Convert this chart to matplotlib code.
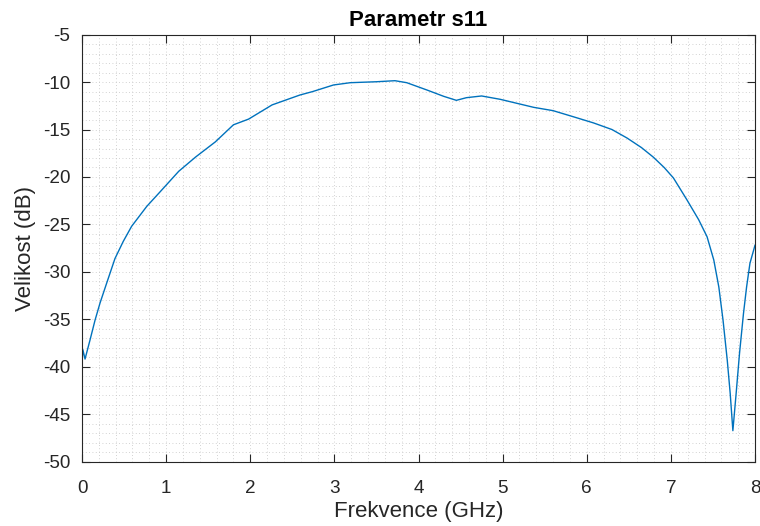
import matplotlib
matplotlib.use("Agg")
import matplotlib.pyplot as plt
from matplotlib.ticker import MultipleLocator

plt.rcParams['font.family'] = ['Liberation Sans', 'DejaVu Sans']

# Measured reflection coefficient S11
freq_ghz = [0.0, 0.01, 0.036, 0.095, 0.155, 0.214, 0.293, 0.392, 0.49, 0.59,
            0.77, 0.93, 1.15, 1.35, 1.585, 1.80, 1.98, 2.26, 2.59, 2.74,
            2.99, 3.19, 3.50, 3.72, 3.86, 4.10, 4.30, 4.45, 4.57, 4.75,
            4.97, 5.37, 5.60, 5.84, 6.08, 6.30, 6.48, 6.65, 6.79, 6.92,
            7.03, 7.19, 7.33, 7.43, 7.51, 7.57, 7.62, 7.67, 7.705, 7.737,
            7.776, 7.816, 7.863, 7.90, 7.94, 8.0]
s11_db = [-39.6, -38.2, -39.2, -37.2, -35.1, -33.3, -31.2, -28.6, -26.8, -25.2,
          -23.1, -21.55, -19.4, -17.9, -16.3, -14.5, -13.9, -12.4, -11.36, -11.0,
          -10.30, -10.06, -9.96, -9.85, -10.06, -10.83, -11.5, -11.92, -11.64, -11.46,
          -11.81, -12.66, -13.01, -13.65, -14.3, -15.0, -15.9, -16.9, -17.9, -19.0,
          -20.1, -22.4, -24.5, -26.3, -28.75, -31.6, -35.1, -39.3, -42.8, -46.75,
          -42.8, -38.6, -34.4, -31.6, -29.1, -27.2]

x_ticks = [0, 1, 2, 3, 4, 5, 6, 7, 8]
y_ticks = [-50, -45, -40, -35, -30, -25, -20, -15, -10, -5]

fig = plt.figure(figsize=(7.6, 5.26), dpi=100)
ax = fig.add_axes([82 / 760, 1 - 461.5 / 526, (755 - 82) / 760, (461.5 - 34.7) / 526])

ax.plot(freq_ghz, s11_db, color='#0072BD', lw=1.0, solid_joinstyle='round')

ax.set_xlim(0, 8)
ax.set_ylim(-50, -5)
ax.set_xticks(x_ticks)
ax.set_yticks(y_ticks)
ax.set_yticklabels([str(t) for t in y_ticks])
ax.xaxis.set_minor_locator(MultipleLocator(0.2))
ax.yaxis.set_minor_locator(MultipleLocator(1))

ax.grid(which='both', linestyle=(0, (1, 3)), color='#c4c4c4', linewidth=0.6)
ax.set_axisbelow(True)

for sp in ax.spines.values():
    sp.set_color('#262626')
    sp.set_linewidth(0.8)
ax.tick_params(which='major', direction='in', length=6, width=0.8, colors='#262626',
               top=True, right=True, labelsize=13.6)
ax.tick_params(axis='x', which='major', pad=13)
ax.tick_params(axis='y', which='major', pad=8.5)
ax.tick_params(which='minor', length=0, top=True, right=True)

ax.set_xlabel('Frekvence (GHz)', fontsize=16, color='#262626', labelpad=3)
ax.set_ylabel('Velikost (dB)', fontsize=16, color='#262626', labelpad=5)
ax.set_title('Parametr s11', fontsize=16, fontweight='bold', color='black', pad=6)

fig.savefig('out.png', dpi=100)
